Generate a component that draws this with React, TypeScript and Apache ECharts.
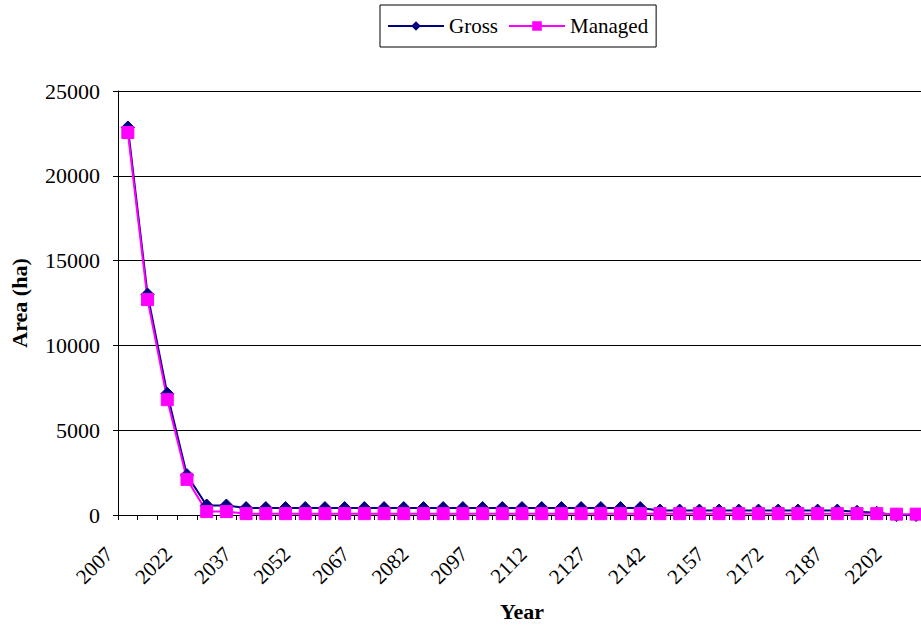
import React, { useEffect, useRef } from "react";
import * as echarts from "echarts";

const years = [
  "2007", "2012", "2017", "2022", "2027", "2032", "2037", "2042", "2047", "2052",
  "2057", "2062", "2067", "2072", "2077", "2082", "2087", "2092", "2097", "2102",
  "2107", "2112", "2117", "2122", "2127", "2132", "2137", "2142", "2147", "2152",
  "2157", "2162", "2167", "2172", "2177", "2182", "2187", "2192", "2197", "2202",
  "2207",
];

const gross = [
  22850, 13000, 7150, 2350, 560, 560, 410, 410, 410, 410,
  410, 410, 410, 410, 410, 410, 410, 410, 410, 410,
  410, 410, 410, 410, 410, 410, 410, 260, 260, 260,
  260, 260, 260, 260, 260, 260, 260, 190, 130, 0,
  0,
];

const managed = [
  22550, 12700, 6800, 2100, 200, 200, 80, 80, 80, 80,
  80, 80, 80, 80, 80, 80, 80, 80, 80, 80,
  80, 80, 80, 80, 80, 80, 80, 80, 80, 80,
  80, 80, 80, 80, 80, 80, 80, 80, 80, 50,
  50,
];

const yMin = 0;
const yMax = 25000;
const yStep = 5000;

const FONT = "Liberation Serif, DejaVu Serif";
const SPACER = "\u00A0\u00A0\u00A0\u00A0\u00A0";

export default function App() {
  const ref = useRef<HTMLDivElement>(null);
  useEffect(() => {
    const chart = echarts.init(ref.current!, null, { renderer: "svg" });
    chart.setOption({
      animation: false,
      backgroundColor: "#ffffff",
      textStyle: { fontFamily: FONT, color: "#000" },
      legend: {
        data: ["Gross", "Managed"],
        left: 380,
        top: 5,
        orient: "horizontal",
        borderColor: "#000",
        borderWidth: 1,
        padding: [10, 8, 10, 7],
        itemGap: 10,
        itemWidth: 56,
        itemHeight: 12,
        textStyle: { fontFamily: FONT, fontSize: 21, color: "#000", lineHeight: 22 },
      },
      grid: { left: 118, top: 91, bottom: 113, right: -5, containLabel: false, outerBoundsMode: "none" },
      xAxis: {
        type: "category",
        data: years,
        boundaryGap: true,
        name: "Year",
        nameLocation: "middle",
        nameGap: 85,
        nameTextStyle: { fontFamily: FONT, fontSize: 22, fontWeight: "bold", color: "#000" },
        axisLine: { show: true, lineStyle: { color: "#000", width: 1 } },
        axisTick: { show: true, alignWithLabel: false, interval: 0, length: 5, lineStyle: { color: "#000" } },
        axisLabel: {
          interval: 2,
          rotate: 45,
          margin: 17,
          formatter: (v: string) => v + SPACER,
          fontFamily: FONT,
          fontSize: 21,
          color: "#000",
        },
        splitLine: { show: false },
      },
      yAxis: {
        type: "value",
        min: yMin,
        max: yMax,
        interval: yStep,
        name: "Area (ha)",
        nameLocation: "middle",
        nameGap: 88,
        nameTextStyle: { fontFamily: FONT, fontSize: 22, fontWeight: "bold", color: "#000" },
        axisLine: { show: true, lineStyle: { color: "#000", width: 1 } },
        axisTick: { show: true, length: 5, lineStyle: { color: "#000" } },
        axisLabel: {
          margin: 18,
          fontFamily: FONT,
          fontSize: 22,
          color: "#000",
          formatter: (v: number) => String(v),
        },
        splitLine: { show: true, lineStyle: { color: "#000", width: 1 } },
      },
      series: [
        {
          name: "Gross",
          type: "line",
          data: gross,
          symbol: "diamond",
          symbolSize: 13,
          showAllSymbol: true,
          lineStyle: { color: "#000080", width: 2 },
          itemStyle: { color: "#000080", borderColor: "#000080" },
        },
        {
          name: "Managed",
          type: "line",
          data: managed,
          symbol: "rect",
          symbolSize: 12,
          showAllSymbol: true,
          lineStyle: { color: "#FF00FF", width: 2 },
          itemStyle: { color: "#FF00FF", borderColor: "#FF00FF" },
        },
      ],
    });
    return () => chart.dispose();
  }, []);
  return (
    <div
      ref={ref}
      style={{ position: "fixed", left: 0, top: 0, width: 921, height: 628, background: "#fff" }}
    />
  );
}
